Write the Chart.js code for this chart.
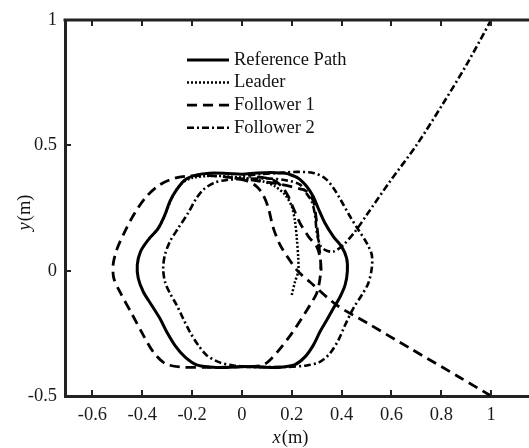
<!DOCTYPE html>
<html>
<head>
<meta charset="utf-8">
<script src="https://cdn.jsdelivr.net/npm/chart.js@4.4.1/dist/chart.umd.min.js"></script>
<style>
  html, body { margin: 0; padding: 0; overflow: hidden; background: #fff; }
  canvas { display: block; }
</style>
</head>
<body>
<canvas id="c" width="560" height="448"></canvas>
<script>
// tick values
const xTicks = [-0.6, -0.4, -0.2, 0, 0.2, 0.4, 0.6, 0.8, 1];
const yTicks = [-0.5, 0, 0.5, 1];

// reference path (closed loop)
const refX = [0.18, 0.12, 0.06, 0.0, -0.06, -0.13, -0.182, -0.229, -0.262, -0.289, -0.309, -0.336, -0.376, -0.407, -0.420, -0.416, -0.396, -0.363, -0.329, -0.302, -0.269, -0.229, -0.182, -0.129, -0.06, 0.0, 0.06, 0.12, 0.166, 0.213, 0.253, 0.286, 0.313, 0.340, 0.367, 0.394, 0.414, 0.423, 0.420, 0.400, 0.367, 0.333, 0.306, 0.286, 0.260, 0.226, 0.18];
const refY = [0.388, 0.392, 0.39, 0.385, 0.388, 0.389, 0.382, 0.362, 0.323, 0.276, 0.223, 0.169, 0.123, 0.076, 0.023, -0.031, -0.084, -0.137, -0.191, -0.244, -0.298, -0.344, -0.376, -0.384, -0.386, -0.382, -0.384, -0.386, -0.384, -0.375, -0.344, -0.298, -0.244, -0.198, -0.150, -0.104, -0.057, -0.003, 0.050, 0.096, 0.136, 0.190, 0.249, 0.296, 0.336, 0.369, 0.388];

// leader
const leaderX = [0.200, 0.213, 0.226, 0.226, 0.220, 0.213, 0.200, 0.173, 0.133, 0.086, 0.019, -0.048, -0.129, -0.2, -0.24, -0.268, -0.29, -0.309, -0.336, -0.376];
const leaderY = [-0.097, -0.044, -0.003, 0.050, 0.130, 0.196, 0.256, 0.303, 0.336, 0.356, 0.369, 0.375, 0.378, 0.37, 0.35, 0.315, 0.27, 0.223, 0.169, 0.123];

// follower 1 (null = break between laps)
const f1X = [1.0, 0.876, 0.675, 0.501, 0.380, 0.273, 0.226, 0.186, 0.153, 0.126, 0.106, 0.086, 0.06, 0.02, -0.05, -0.13, -0.209, -0.269, -0.329, -0.383, -0.430, -0.470, -0.503, -0.517, -0.514, -0.490, -0.443, -0.396, -0.356, -0.309, -0.249, -0.15, -0.05, 0.04, 0.086, 0.119, 0.159, 0.2, 0.24, 0.273, 0.30, 0.313, 0.316, 0.31, 0.303, 0.297, 0.287, 0.267, 0.246, 0.15, 0.05, -0.05,
  null, 0.318, 0.314, 0.30, 0.267, 0.233, 0.206, 0.186, 0.16, 0.126, 0.08, 0.03];
const f1Y = [-0.5, -0.427, -0.31, -0.208, -0.137, -0.045, -0.004, 0.05, 0.103, 0.17, 0.25, 0.30, 0.335, 0.358, 0.372, 0.379, 0.378, 0.369, 0.343, 0.296, 0.230, 0.156, 0.082, 0.023, -0.031, -0.084, -0.170, -0.257, -0.324, -0.370, -0.384, -0.386, -0.385, -0.382, -0.376, -0.350, -0.304, -0.250, -0.190, -0.137, -0.090, -0.032, 0.029, 0.09, 0.16, 0.215, 0.276, 0.31, 0.323, 0.345, 0.36, 0.372,
  null, 0.0, 0.05, 0.096, 0.136, 0.19, 0.25, 0.296, 0.336, 0.362, 0.372, 0.374];

// follower 2
const f2X = [1.0, 0.902, 0.809, 0.702, 0.594, 0.501, 0.454, 0.407, 0.367, 0.333, 0.313, 0.300, 0.293, 0.280, 0.253, 0.233, 0.18, 0.1, 0.019, -0.061, -0.115, -0.155, -0.182, -0.216, -0.256, -0.289, -0.309, -0.316, -0.309, -0.289, -0.262, -0.236, -0.209, -0.175, -0.142, -0.095, -0.035, 0.032, 0.179, 0.260, 0.313, 0.353, 0.387, 0.414, 0.447, 0.481, 0.507, 0.521, 0.521, 0.501, 0.467, 0.434, 0.4, 0.367, 0.333, 0.286, 0.220, 0.153, 0.08, 0.0];
const f2Y = [1.0, 0.823, 0.670, 0.503, 0.356, 0.223, 0.156, 0.103, 0.076, 0.083, 0.103, 0.156, 0.223, 0.276, 0.316, 0.343, 0.36, 0.368, 0.366, 0.362, 0.349, 0.323, 0.290, 0.230, 0.169, 0.116, 0.063, 0.010, -0.044, -0.090, -0.137, -0.191, -0.244, -0.298, -0.337, -0.364, -0.378, -0.384, -0.384, -0.378, -0.364, -0.330, -0.277, -0.217, -0.150, -0.097, -0.050, 0.010, 0.063, 0.110, 0.163, 0.216, 0.276, 0.330, 0.369, 0.390, 0.394, 0.390, 0.385, 0.378];

const labels = ['Reference Path', 'Leader', 'Follower 1', 'Follower 2'];
const dashes = [[], [2, 2], [10, 6], [7, 3, 2, 3]];
const widths = [3, 2.5, 2.8, 2.6];

const axisColor = '#222';
const fontFamily = "'Liberation Serif', 'Times New Roman', serif";
const fontSize = 18.5;

const toPoints = (xs, ys) => xs.map((x, i) => ({ x: x, y: ys[i] }));
const series = [toPoints(refX, refY), toPoints(leaderX, leaderY), toPoints(f1X, f1Y), toPoints(f2X, f2Y)];

// top border, inward ticks, legend and axis titles
const frame = {
  id: 'frame',
  afterDraw(chart) {
    const { ctx, chartArea: a, scales: { x, y } } = chart;
    ctx.save();
    ctx.strokeStyle = axisColor;
    ctx.lineWidth = 3;
    ctx.beginPath();
    ctx.moveTo(a.left - 1.5, a.top);
    ctx.lineTo(a.right, a.top);
    ctx.stroke();

    ctx.lineWidth = 2;
    ctx.beginPath();
    xTicks.forEach(v => {
      const px = Math.round(x.getPixelForValue(v));
      ctx.moveTo(px, a.bottom); ctx.lineTo(px, a.bottom - 6);
      ctx.moveTo(px, a.top); ctx.lineTo(px, a.top + 6);
    });
    yTicks.forEach(v => {
      const py = Math.round(y.getPixelForValue(v));
      ctx.moveTo(a.left, py); ctx.lineTo(a.left + 6, py);
    });
    ctx.stroke();

    // legend
    ctx.font = fontSize + 'px ' + fontFamily;
    ctx.textBaseline = 'middle';
    ctx.fillStyle = '#111';
    labels.forEach((t, i) => {
      const ly = 60 + i * 22.6;
      ctx.strokeStyle = '#000';
      ctx.lineWidth = widths[i];
      ctx.setLineDash(dashes[i]);
      ctx.beginPath();
      ctx.moveTo(187, ly); ctx.lineTo(229, ly);
      ctx.stroke();
      ctx.setLineDash([]);
      ctx.fillText(t, 234, ly);
    });

    // axis titles: italic variable, upright unit
    const drawTitle = (v, cx, cy, rot) => {
      ctx.save();
      ctx.translate(cx, cy);
      ctx.rotate(rot);
      ctx.font = 'italic ' + fontSize + 'px ' + fontFamily;
      const w1 = ctx.measureText(v).width;
      ctx.font = fontSize + 'px ' + fontFamily;
      const w2 = ctx.measureText('(m)').width;
      const x0 = -(w1 + w2) / 2;
      ctx.textAlign = 'left';
      ctx.font = 'italic ' + fontSize + 'px ' + fontFamily;
      ctx.fillText(v, x0, 0);
      ctx.font = fontSize + 'px ' + fontFamily;
      ctx.fillText('(m)', x0 + w1 + 1, 0);
      ctx.restore();
    };
    drawTitle('x', 290, 438, 0);
    drawTitle('y', 25, 213, -Math.PI / 2);
    ctx.restore();
  }
};

const fmt = v => String(Number(v.toFixed(1)));

new Chart(document.getElementById('c'), {
  type: 'scatter',
  data: {
    datasets: series.map((pts, i) => ({
      label: labels[i],
      data: pts,
      showLine: true,
      borderColor: '#000',
      borderWidth: widths[i],
      borderDash: dashes[i],
      pointRadius: 0,
      tension: 0.3,
      spanGaps: false,
      fill: false
    }))
  },
  options: {
    responsive: false,
    animation: false,
    devicePixelRatio: 1,
    layout: { padding: { top: 20, right: 19, left: 0, bottom: 0 } },
    plugins: { legend: { display: false }, tooltip: { enabled: false } },
    scales: {
      x: {
        type: 'linear',
        min: -0.71,
        max: 1.2,
        afterBuildTicks: s => { s.ticks = xTicks.map(v => ({ value: v })); },
        afterFit: s => { s.height = 52; },
        grid: { display: false, drawTicks: false },
        border: { display: true, color: axisColor, width: 3 },
        ticks: { padding: 8, color: '#1a1a1a', font: { family: fontFamily, size: fontSize }, maxRotation: 0, callback: v => fmt(v) }
      },
      y: {
        type: 'linear',
        min: -0.5,
        max: 1,
        afterBuildTicks: s => { s.ticks = yTicks.map(v => ({ value: v })); },
        afterFit: s => { s.width = 65; },
        grid: { display: false, drawTicks: false },
        border: { display: true, color: axisColor, width: 3 },
        ticks: { padding: 8, color: '#1a1a1a', font: { family: fontFamily, size: fontSize }, callback: v => fmt(v) }
      }
    }
  },
  plugins: [frame]
});
</script>
</body>
</html>
